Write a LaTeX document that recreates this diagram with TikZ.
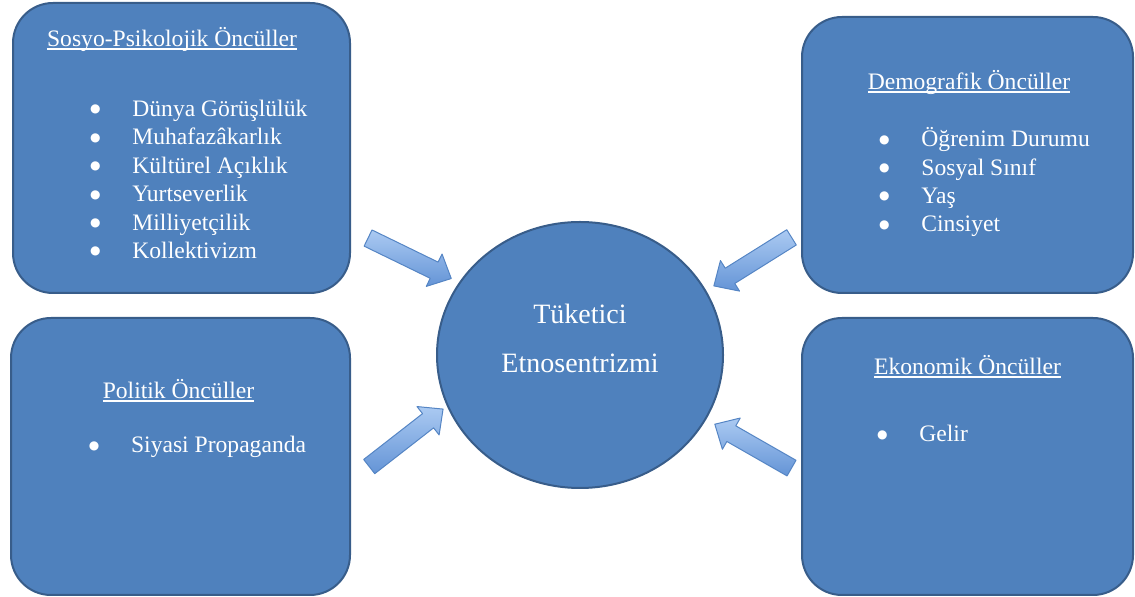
\documentclass[tikz,border=0pt]{standalone}
\usepackage{fontspec}
\setmainfont{Liberation Serif}
\newfontfamily\bulfont{DejaVu Sans}
\usepackage{xcolor}
\usetikzlibrary{shapes.geometric, positioning, calc}

\definecolor{boxblue}{HTML}{4F81BD}
\definecolor{boxline}{HTML}{385D8A}
\definecolor{arrlight}{HTML}{ABCAF2}
\definecolor{arrdark}{HTML}{6494D6}
\definecolor{arrline}{HTML}{5585C4}

\newcommand{\undl}[1]{\setbox0\hbox{#1}\rlap{\rule[-1.3pt]{\wd0}{0.6pt}}\box0}
\newcommand{\bul}{\makebox[21pt][l]{\makebox[5pt]{\raisebox{1.8pt}{\bulfont\fontsize{6}{6}\selectfont ●}}}}
% block arrow between the coordinates #1-tail and #1-tip
\newcommand{\pusharrow}[1]{%
  \coordinate (#1-neck) at ($(#1-tip)!9.5pt!(#1-tail)$);
  \draw[push] ($(#1-tail)!4.5pt!90:(#1-tip)$) -- ($(#1-neck)!4.5pt!-90:(#1-tail)$)
    -- ($(#1-neck)!9pt!-90:(#1-tail)$) -- (#1-tip)
    -- ($(#1-neck)!9pt!90:(#1-tail)$) -- ($(#1-neck)!4.5pt!90:(#1-tail)$)
    -- ($(#1-tail)!4.5pt!-90:(#1-tip)$) -- cycle;}

\tikzset{
  panel/.style 2 args={
    rectangle, rounded corners=20pt, draw=boxline, line width=1pt,
    fill=boxblue, minimum width=#1, minimum height=#2, inner sep=0pt
  },
  core/.style={
    ellipse, draw=boxline, line width=1pt, fill=boxblue,
    minimum width=143pt, minimum height=133pt, inner sep=0pt
  },
  heading/.style={
    anchor=base, inner sep=0pt, text=white,
    font=\fontsize{11.8}{14.2}\selectfont
  },
  entry/.style={
    inner sep=0pt, text=white,
    font=\fontsize{11.8}{14.2}\selectfont
  },
  corelabel/.style={
    align=center, text=white, inner sep=0pt,
    font=\fontsize{14}{24.5}\selectfont
  },
  push/.style={
    draw=arrline, line width=0.5pt, line join=round,
    top color=arrlight, bottom color=arrdark
  }
}

\begin{document}
\begin{tikzpicture}[x=0.5pt, y=-0.5pt]
\useasboundingbox (0,0) rectangle (1135,597);

% four panels and the centre
\node[panel={168.5pt}{145pt}] (sosyo) at (181.5,148) {};
\node[panel={165.5pt}{138pt}] (demo) at (967.5,155) {};
\node[panel={169.5pt}{138.5pt}] (politik) at (180.5,456.5) {};
\node[panel={165.5pt}{138.5pt}] (ekon) at (967.5,456.5) {};
\node[core] (tuketici) at (580,355) {};
\node[corelabel] (tuketici-t) at ([yshift=8.5pt]tuketici.center) {Tüketici\\Etnosentrizmi};

% socio-psychological
\node[heading] (sosyo-h) at (172,47) {\undl{Sosyo-Psikolojik Öncüller}};
\node[entry, anchor=base west] (s1) at (90,116.5) {\bul Dünya Görüşlülük};
\node[entry, below=14.2pt of s1.base west, anchor=base west] (s2) {\bul Muhafazâkarlık};
\node[entry, below=14.2pt of s2.base west, anchor=base west] (s3) {\bul Kültürel Açıklık};
\node[entry, below=14.2pt of s3.base west, anchor=base west] (s4) {\bul Yurtseverlik};
\node[entry, below=14.2pt of s4.base west, anchor=base west] (s5) {\bul Milliyetçilik};
\node[entry, below=14.2pt of s5.base west, anchor=base west] (s6) {\bul Kollektivizm};

% demographic
\node[heading] (demo-h) at (969,90) {\undl{Demografik Öncüller}};
\node[entry, anchor=base west] (d1) at (879,146.7) {\bul Öğrenim Durumu};
\node[entry, below=14.2pt of d1.base west, anchor=base west] (d2) {\bul Sosyal Sınıf};
\node[entry, below=14.2pt of d2.base west, anchor=base west] (d3) {\bul Yaş};
\node[entry, below=14.2pt of d3.base west, anchor=base west] (d4) {\bul Cinsiyet};

% political
\node[heading] (politik-h) at (178.5,399) {\undl{Politik Öncüller}};
\node[entry, anchor=base west] (p1) at (88.7,453) {\bul Siyasi Propaganda};

% economic
\node[heading] (ekon-h) at (967.5,375) {\undl{Ekonomik Öncüller}};
\node[entry, anchor=base west] (e1) at (877,441.7) {\bul Gelir};

% block arrows into the centre
\path ($(sosyo.north east)!0.78!(sosyo.south east)$) -- coordinate[pos=0.158] (a1-tail) coordinate[pos=0.928] (a1-tip) (tuketici.149);
\path ($(demo.north west)!0.775!(demo.south west)$) -- coordinate[pos=0.10] (a2-tail) coordinate[pos=0.92] (a2-tip) (tuketici.27);
\path ($(politik.north east)!0.587!(politik.south east)$) -- coordinate[pos=0.19] (a3-tail) coordinate[pos=0.96] (a3-tip) (tuketici.201);
\path ($(ekon.north west)!0.561!(ekon.south west)$) -- coordinate[pos=0.10] (a4-tail) coordinate[pos=0.91] (a4-tip) (tuketici.-27);
\pusharrow{a1}
\pusharrow{a2}
\pusharrow{a3}
\pusharrow{a4}

\end{tikzpicture}
\end{document}
